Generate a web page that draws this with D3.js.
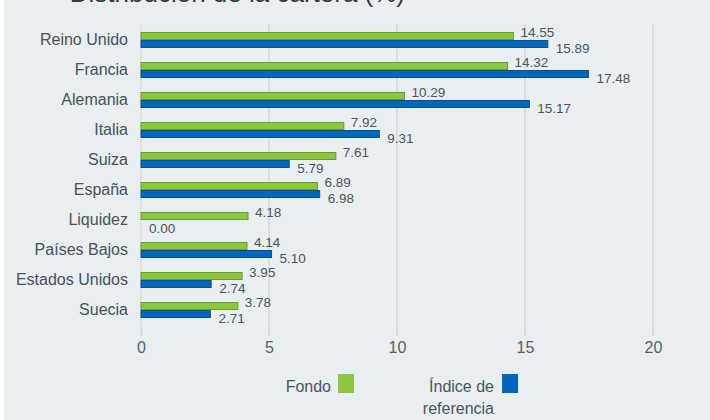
<!DOCTYPE html>
<html>
<head>
<meta charset="utf-8">
<script src="https://cdn.jsdelivr.net/npm/d3@7"></script>
<style>
  body { margin: 0; background: #ffffff; }
  #chart { width: 710px; height: 420px; }
  text { font-family: "Liberation Sans", Arial, sans-serif; }
</style>
</head>
<body>
<div id="chart"></div>
<script>
const countries = ['Reino Unido', 'Francia', 'Alemania', 'Italia', 'Suiza', 'España',
    'Liquidez', 'Países Bajos', 'Estados Unidos', 'Suecia'];
const fondo = [14.55, 14.32, 10.29, 7.92, 7.61, 6.89, 4.18, 4.14, 3.95, 3.78];
const indice = [15.89, 17.48, 15.17, 9.31, 5.79, 6.98, 0.00, 5.10, 2.74, 2.71];
const xTicks = [0, 5, 10, 15, 20];
const seriesNames = ['Fondo', 'Índice de referencia'];

const width = 710, height = 420;
const colors = { fondo: '#8dc63f', fondoStroke: '#6b9a2e', indice: '#0067bd', indiceStroke: '#0d4f8c' };

const svg = d3.select('#chart').append('svg')
    .attr('width', width)
    .attr('height', height);

svg.append('rect')
    .attr('x', 4).attr('y', 0)
    .attr('width', width - 4).attr('height', height)
    .attr('fill', '#e9eef1');

// title, cut off at the top in the original
svg.append('text')
    .attr('x', 405).attr('y', 2)
    .attr('text-anchor', 'end')
    .attr('font-size', 26)
    .attr('fill', '#333a40')
    .text('Distribución de la cartera (%)');

const x = d3.scaleLinear().domain([0, 20]).range([141, 653]);
const y = d3.scaleBand().domain(countries).range([25, 325]).paddingInner(0.467).paddingOuter(0.233);
const sub = d3.scaleBand().domain(['fondo', 'indice']).range([0, y.bandwidth()]);

// grid
svg.append('g')
    .selectAll('line')
    .data(xTicks)
    .join('line')
    .attr('x1', d => x(d)).attr('x2', d => x(d))
    .attr('y1', 24).attr('y2', 336)
    .attr('stroke', '#d5d8db')
    .attr('stroke-width', d => d === 0 ? 1 : 1.5);

// x axis labels
const xAxis = svg.append('g')
    .attr('transform', 'translate(0,330)')
    .call(d3.axisBottom(x).tickValues(xTicks).tickSize(6).tickFormat(d3.format('d')));
xAxis.select('.domain').remove();
xAxis.selectAll('line').attr('stroke', '#cfd3d6');
xAxis.selectAll('text')
    .attr('font-size', 16)
    .attr('fill', '#555f68')
    .attr('dy', '0.85em');

// y labels
const yAxis = svg.append('g')
    .attr('transform', 'translate(141,0)')
    .call(d3.axisLeft(y).tickSize(0).tickPadding(13));
yAxis.select('.domain').remove();
yAxis.selectAll('text')
    .attr('font-size', 16)
    .attr('fill', '#47525c');

const rows = countries.map((c, i) => ({ c, fondo: fondo[i], indice: indice[i] }));

const g = svg.append('g');
const row = g.selectAll('g.row')
    .data(rows)
    .join('g')
    .attr('class', 'row')
    .attr('transform', d => `translate(0,${y(d.c)})`);

row.append('rect')
    .attr('x', x(0))
    .attr('y', sub('fondo') + 0.5)
    .attr('width', d => x(d.fondo) - x(0))
    .attr('height', sub.bandwidth() - 1)
    .attr('fill', colors.fondo)
    .attr('stroke', colors.fondoStroke)
    .attr('stroke-width', 1);

row.append('rect')
    .attr('x', x(0))
    .attr('y', sub('indice') + 0.5)
    .attr('width', d => x(d.indice) - x(0))
    .attr('height', sub.bandwidth() - 1)
    .attr('fill', colors.indice)
    .attr('stroke', d => d.indice > 0 ? colors.indiceStroke : 'none')
    .attr('stroke-width', 1);

row.append('text')
    .attr('x', d => x(d.fondo) + 7)
    .attr('y', sub('fondo'))
    .attr('dy', '0.35em')
    .attr('font-size', 13.5)
    .attr('fill', '#4b555e')
    .text(d => d.fondo.toFixed(2));

row.append('text')
    .attr('x', d => x(d.indice) + 8)
    .attr('y', sub('indice') + sub.bandwidth())
    .attr('dy', '0.35em')
    .attr('font-size', 13.5)
    .attr('fill', '#4b555e')
    .text(d => d.indice.toFixed(2));

// legend
const legend = svg.append('g');
legend.append('text')
    .attr('x', 331).attr('y', 386).attr('dy', '0.35em')
    .attr('text-anchor', 'end')
    .attr('font-size', 16).attr('fill', '#4b555e')
    .text(seriesNames[0]);
legend.append('rect')
    .attr('x', 338).attr('y', 374).attr('width', 16).attr('height', 19)
    .attr('fill', colors.fondo);

const words = seriesNames[1].split(' ');
const lines = [words.slice(0, 2).join(' '), words.slice(2).join(' ')];
legend.append('text')
    .attr('text-anchor', 'end')
    .attr('font-size', 16).attr('fill', '#4b555e')
    .selectAll('tspan')
    .data(lines)
    .join('tspan')
    .attr('x', 494)
    .attr('y', (d, i) => 386 + i * 22)
    .attr('dy', '0.35em')
    .text(d => d);
legend.append('rect')
    .attr('x', 502).attr('y', 374).attr('width', 16).attr('height', 19)
    .attr('fill', colors.indice);
</script>
</body>
</html>
